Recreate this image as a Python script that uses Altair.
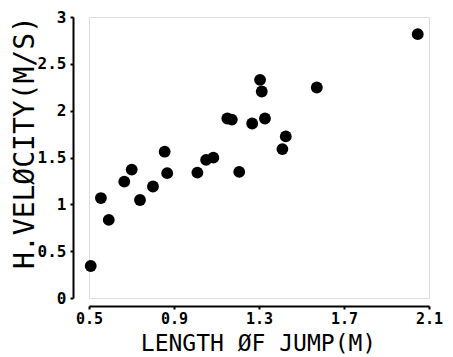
import altair as alt
import pandas as pd

length_m = [0.508, 0.593, 0.556, 0.666, 0.701, 0.740, 0.801, 0.856, 0.868, 1.010,
            1.051, 1.085, 1.151, 1.172, 1.207, 1.268, 1.305, 1.313, 1.328, 1.410,
            1.426, 1.572, 2.047]
velocity = [0.342, 0.834, 1.067, 1.243, 1.371, 1.046, 1.190, 1.562, 1.333, 1.339,
            1.474, 1.498, 1.916, 1.905, 1.346, 1.863, 2.329, 2.205, 1.916, 1.590,
            1.725, 2.247, 2.817]
x_ticks = [0.5, 0.9, 1.3, 1.7, 2.1]
y_ticks = [0, 0.5, 1, 1.5, 2, 2.5, 3]

df = pd.DataFrame({"length": length_m, "velocity": velocity})

FONT = "DejaVu Sans Mono"

chart = alt.Chart(df).mark_circle(size=140, opacity=1, color="black").encode(
    x=alt.X("length:Q",
            scale=alt.Scale(domain=[0.5, 2.1], nice=False, zero=False),
            axis=alt.Axis(title="LENGTH ØF JUMP(M)", values=x_ticks, format=".1f",
                          offset=8, grid=False, domainColor="black", domainWidth=2,
                          tickColor="black", tickSize=3, tickWidth=2,
                          labelFlush=False, labelOverlap=False,
                          labelFont=FONT, labelFontSize=15, labelFontWeight="bold",
                          labelColor="black", labelPadding=2,
                          titleFont=FONT, titleFontSize=23, titleFontWeight="normal",
                          titleColor="black", titleBaseline="alphabetic",
                          titleX=169, titleY=44)),
    y=alt.Y("velocity:Q",
            scale=alt.Scale(domain=[0, 3], nice=False),
            axis=alt.Axis(title="H.VELØCITY(M/S)", values=y_ticks, format="~g",
                          offset=16, grid=False, domainColor="black", domainWidth=2,
                          tickColor="black", tickSize=3, tickWidth=2,
                          labelFlush=False, labelOverlap=False,
                          labelFont=FONT, labelFontSize=16, labelFontWeight="bold",
                          labelColor="black", labelPadding=4,
                          titleFont=FONT, titleFontSize=28, titleFontWeight="normal",
                          titleColor="black", titleBaseline="alphabetic",
                          titleX=-40, titleY=125)),
).properties(
    width=340, height=281,
    autosize=alt.AutoSizeParams(type="none"),
    padding={"left": 81, "top": 9, "right": 16, "bottom": 57},
).configure_view(stroke=None).configure(background="white")

chart.save("out.html", embed_options={"renderer": "svg", "actions": False})
